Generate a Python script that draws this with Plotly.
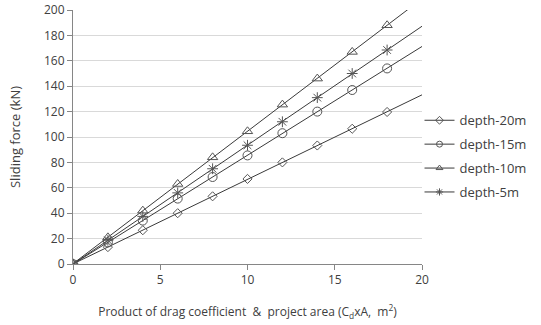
import numpy as np
import plotly.graph_objects as go

x_vals = [0, 2, 4, 6, 8, 10, 12, 14, 16, 18]
depth_20m = [0, 13.3, 26.6, 40, 53.3, 67, 80, 93.3, 106.5, 119.7]
depth_15m = [0, 17, 34.2, 51.5, 68.5, 85.5, 103, 120, 137, 154]
depth_10m = [0, 21, 42, 63, 84, 104.5, 125.5, 146, 167, 188]
depth_5m = [0, 18.7, 37.5, 56, 75, 93.5, 112, 131, 150, 168.5]

series = [
    ("depth-20m", depth_20m, "diamond-open", 7),
    ("depth-15m", depth_15m, "circle-open", 9),
    ("depth-10m", depth_10m, "triangle-up-open", 9),
    ("depth-5m", depth_5m, "asterisk-open", 9),
]

line_col = "#3a3a3a"
mark_col = "#555555"
font = "Open Sans, Liberation Sans, sans-serif"

fig = go.Figure()
x_arr = np.array(x_vals)
x_fit = np.array([0, 20])
for name, ys, sym, sz in series:
    k, b = np.polyfit(x_arr, np.array(ys), 1)
    fig.add_trace(go.Scatter(x=x_fit, y=k * x_fit + b, mode="lines",
                             line=dict(color=line_col, width=1),
                             showlegend=False, hoverinfo="skip"))
for name, ys, sym, sz in series:
    fig.add_trace(go.Scatter(x=x_vals, y=ys, mode="markers", name=name,
                             showlegend=False,
                             marker=dict(symbol=sym, size=sz, color=mark_col,
                                         line=dict(color=mark_col, width=1))))
# legend entries (no data drawn)
for i, (name, ys, sym, sz) in enumerate(series):
    fig.add_trace(go.Scatter(x=[None], y=[None], mode="lines+markers", name=name,
                             legendgroup=f"g{i}",
                             line=dict(color=line_col, width=1),
                             marker=dict(symbol=sym, size=6, color=mark_col,
                                         line=dict(color=mark_col, width=1))))

fig.update_layout(
    width=541, height=325,
    margin=dict(l=73, r=118, t=10, b=61),
    paper_bgcolor="white", plot_bgcolor="white",
    font=dict(family=font, size=12, color="#404040"),
    showlegend=True,
    legend=dict(x=0.99, y=0.424, xanchor="left", yanchor="middle",
                font=dict(size=13, color="#404040"),
                tracegroupgap=4, itemwidth=30, bgcolor="rgba(0,0,0,0)"),
    xaxis=dict(range=[0, 20], tickvals=[0, 5, 10, 15, 20], showgrid=False,
               zeroline=False, showline=True, linecolor="#868686",
               ticks="outside", ticklen=5, tickcolor="#868686", automargin=False,
               tickfont=dict(size=12, color="#404040"),
               title=dict(text="Product of drag coefficient  &  project area (C<sub>d</sub>xA,  m<sup>2</sup>)",
                          font=dict(size=12, color="#404040"), standoff=20)),
    yaxis=dict(range=[0, 200], dtick=20, showgrid=True, gridcolor="#d9d9d9",
               zeroline=False, showline=True, linecolor="#868686",
               ticks="outside", ticklen=5, tickcolor="#868686", automargin=False,
               ticklabeloverflow="allow",
               tickfont=dict(size=12, color="#404040"),
               title=dict(text="Sliding force (kN)", font=dict(size=13, color="#404040"),
                          standoff=20)),
)
fig.write_html("out.html", config={"displayModeBar": False},
               post_script="document.body.style.margin='0px';")
